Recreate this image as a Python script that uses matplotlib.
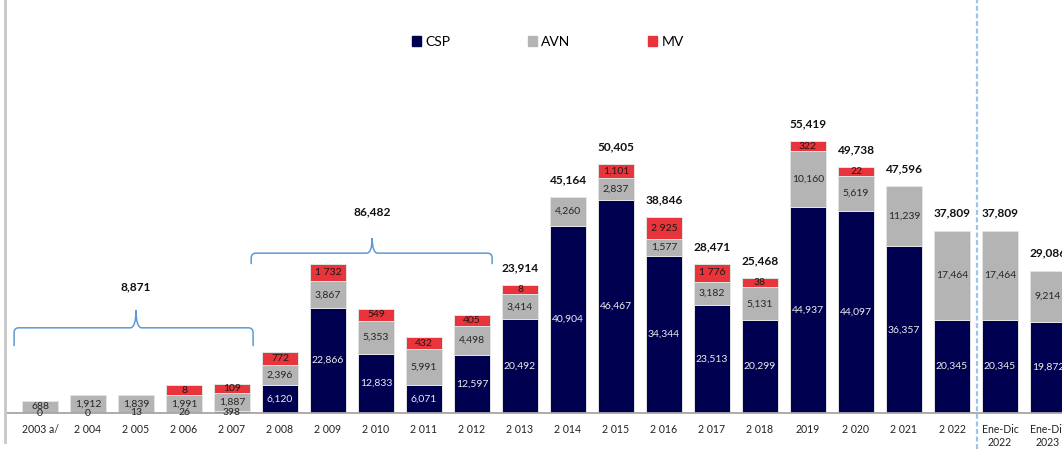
import matplotlib
matplotlib.use("Agg")
import matplotlib.pyplot as plt
from matplotlib.patches import Patch, PathPatch
from matplotlib.path import Path
from matplotlib.lines import Line2D

plt.rcParams['font.family'] = ['Lato', 'DejaVu Sans']

# datos
categories = ["2003 a/", "2 004", "2 005", "2 006", "2 007", "2 008", "2 009", "2 010",
              "2 011", "2 012", "2 013", "2 014", "2 015", "2 016", "2 017", "2 018",
              "2019", "2 020", "2 021", "2 022", "Ene-Dic\n2022", "Ene-Dic\n2023"]
csp = [0, 0, 13, 26, 398, 6120, 22866, 12833, 6071, 12597, 20492, 40904, 46467,
       34344, 23513, 20299, 44937, 44097, 36357, 20345, 20345, 19872]
avn = [688, 1912, 1839, 1991, 1887, 2396, 3867, 5353, 5991, 4498, 3414, 4260, 2837,
       1577, 3182, 5131, 10160, 5619, 11239, 17464, 17464, 9214]
mv = [None, None, None, 8, 109, 772, 1732, 549, 432, 405, 8, None, 1101, 2925, 1776,
      38, 322, 22, None, None, None, None]
mv_labels = [None, None, None, "8", "109", "772", "1 732", "549", "432", "405", "8", None,
             "1,101", "2 925", "1 776", "38", "322", "22", None, None, None, None]
groups = [(0, 4), (5, 9)]     # periodos con llave
first_total = 10              # totales sobre barra desde 2013

C_CSP, C_AVN, C_MV = "#000050", "#B4B4B4", "#E8343A"
PAD = 2000                    # alto minimo extra de AVN / MV en el grafico original
W, H = 1062, 449
PX_K = 4.58 / 1000            # px por unidad
BASE = 36                     # px desde abajo

fig = plt.figure(figsize=(W / 100, H / 100), dpi=100)
ax = fig.add_axes([0, BASE / H, 1, (H - BASE) / H])
x = list(range(len(categories)))
ax.set_xlim(-40 / 48, (W - 40) / 48)
ax.set_ylim(0, (H - BASE) / PX_K)

avn_h = [v + PAD for v in avn]
mv_h = [(v + PAD) if v is not None else 0 for v in mv]
bw = 0.77
ek = dict(edgecolor="#E4E4E4", linewidth=0.7)
ax.bar(x, csp, bw, color=C_CSP, **ek)
ax.bar(x, avn_h, bw, bottom=csp, color=C_AVN, **ek)
bot2 = [c + a for c, a in zip(csp, avn_h)]
for i in x:
    if mv[i] is not None:
        ax.bar(i, mv_h[i], bw, bottom=bot2[i], color=C_MV, **ek)

fs = 7.5
for i in x:
    c = "#EDEDED" if csp[i] > 1000 else "#222222"
    ax.text(i, csp[i] / 2, f"{csp[i]:,}", ha="center", va="center", fontsize=fs, color=c)
    ax.text(i, csp[i] + avn_h[i] / 2, f"{avn[i]:,}", ha="center", va="center",
            fontsize=fs, color="#262626")
    if mv[i] is not None:
        ax.text(i, bot2[i] + mv_h[i] / 2, mv_labels[i], ha="center", va="center",
                fontsize=fs, color="#1a1a1a")
    if i >= first_total:
        tot = csp[i] + avn[i] + (mv[i] or 0)
        ax.annotate(f"{tot:,}", (i, bot2[i] + mv_h[i]), xytext=(0, 10),
                    textcoords="offset points", ha="center", va="baseline",
                    fontsize=8.6, fontweight="bold", color="#111111")


def brace(x0, x1, xt, y_end, y_mid, y_tip):
    dx, dy = 0.1, 1100
    tx = 0.12
    verts = [(x0, y_end), (x0, y_mid - dy), (x0, y_mid), (x0 + dx, y_mid),
             (xt - tx, y_mid), (xt, y_mid), (xt, y_tip),
             (xt, y_mid), (xt + tx, y_mid),
             (x1 - dx, y_mid), (x1, y_mid), (x1, y_mid - dy), (x1, y_end)]
    codes = [Path.MOVETO, Path.LINETO, Path.CURVE3, Path.CURVE3,
             Path.LINETO, Path.CURVE3, Path.CURVE3,
             Path.CURVE3, Path.CURVE3,
             Path.LINETO, Path.CURVE3, Path.CURVE3, Path.LINETO]
    ax.add_patch(PathPatch(Path(verts, codes), fill=False, edgecolor="#5B9BD5", lw=1.1))


brace_pos = [(-0.54, 4.44, 2.0, 14600, 18600, 22500, 27500),
             (4.40, 9.42, 6.92, 32500, 34900, 38200, 43900)]
for (a, b), (x0, x1, xt, ye, ym, yt, yl) in zip(groups, brace_pos):
    s = sum(csp[a:b + 1]) + sum(avn[a:b + 1]) + sum(v or 0 for v in mv[a:b + 1])
    brace(x0, x1, xt, ye, ym, yt)
    ax.text(xt, yl, f"{s:,}", ha="center", va="center", fontsize=8.6,
            fontweight="bold", color="#111111")

# separador
ax.axvline(19.52, ymin=-BASE / (H - BASE), ymax=1, clip_on=False,
           color="#9DC3E6", lw=1.6, linestyle=(0, (2.2, 1.2)))

for sp in ["top", "right", "left"]:
    ax.spines[sp].set_visible(False)
ax.spines["bottom"].set_color("#A6A6A6")
ax.spines["bottom"].set_linewidth(1.3)
ax.spines["bottom"].set_bounds(-33 / 48, (W - 40) / 48)
ax.set_yticks([])
ax.set_xticks(x)
ax.set_xticklabels(categories, fontsize=7.6, color="#222222", linespacing=1.2)
ax.tick_params(axis="x", length=0, pad=8)

fig.add_artist(Line2D([5 / W, 5 / W], [7 / H, 1], transform=fig.transFigure,
                      color="#C8C8C8", lw=2))

handles = [Patch(color=C_CSP), Patch(color=C_AVN), Patch(color=C_MV)]
fig.legend(handles, ["CSP", "AVN", "MV"], loc="center", bbox_to_anchor=(548 / W, 1 - 42 / H),
           ncol=3, frameon=False, fontsize=10, handlelength=0.65, handleheight=0.65,
           handletextpad=0.3, columnspacing=5.6)

fig.savefig("out.png", dpi=100)
